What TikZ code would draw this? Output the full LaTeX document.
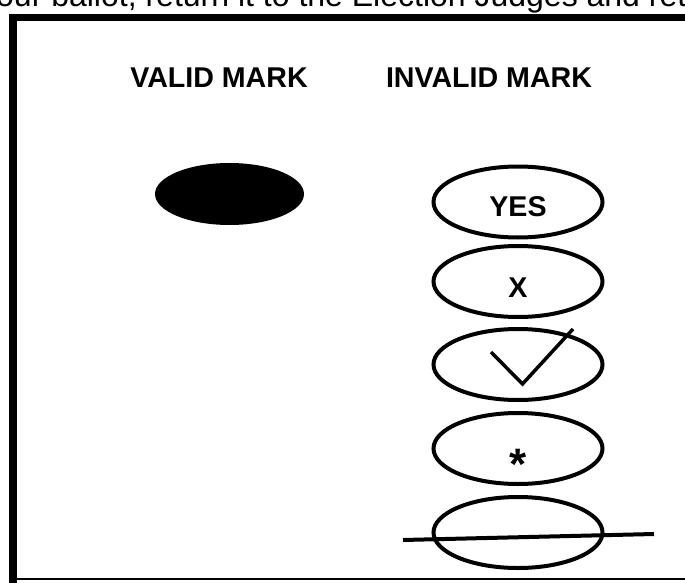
\documentclass[tikz,border=0pt]{standalone}
\usepackage{fontspec}
\setmainfont{Liberation Sans}
\usetikzlibrary{shapes.geometric}
\tikzstyle{frame}=[line width=7.5pt]
\tikzstyle{heading}=[anchor=base,inner sep=0pt,font=\fontsize{28.6}{34}\selectfont\bfseries]
\tikzstyle{markoval}=[ellipse,draw,line width=4pt,inner sep=0pt,minimum width=169pt,minimum height=71pt]
\tikzstyle{marktext}=[anchor=base,inner sep=0pt,font=\fontsize{28.6}{34}\selectfont\bfseries]
\tikzstyle{stroke}=[line width=3.5pt]

\begin{document}
\begin{tikzpicture}[x=1pt,y=-1pt]
\useasboundingbox (0,0) rectangle (685,583);
% cut-off line of the page above the box
\node[anchor=base west,inner sep=0pt,font=\fontsize{32}{38}\selectfont] (topline) at (-4,7) {our ballot, return it to the Election Judges and ret};
% box round the marks
\coordinate (tr) at (700,17.5);
\coordinate (tl) at (13,17.5);
\coordinate (bl) at (13,600);
\coordinate (bll) at (13,579);
\coordinate (brr) at (700,579);
\draw[frame] (tr) -- (tl) -- (bl);
\draw[line width=2.5pt] (bll) -- (brr);
% headings
\node[heading] (valid) at (219,88) {VALID MARK};
\node[heading] (invalid) at (489,88) {INVALID MARK};
% valid mark
\node[ellipse,fill=black,minimum width=149pt,minimum height=62pt,inner sep=0pt] (filled) at (229.5,194) {};
% invalid marks
\node[markoval] (yes) at (518,202) {};
\node[marktext] (yestxt) at (518,216) {YES};
\node[markoval] (cross) at (518,281.5) {};
\node[marktext] (crosstxt) at (518,297) {X};
\node[markoval] (check) at (518,364.5) {};
\coordinate (c1) at (491,352);
\coordinate (c2) at (522.5,384);
\coordinate (c3) at (573,329);
\draw[stroke] (c1) -- (c2) -- (c3);
\node[markoval] (star) at (518,448.5) {};
\node[marktext,font=\fontsize{44}{50}\selectfont\bfseries] (startxt) at (518,479) {*};
\node[markoval] (struck) at (518,532.5) {};
\coordinate (s1) at (403,540);
\coordinate (s2) at (654,534);
\draw[line width=4pt] (s1) -- (s2);
\end{tikzpicture}
\end{document}
